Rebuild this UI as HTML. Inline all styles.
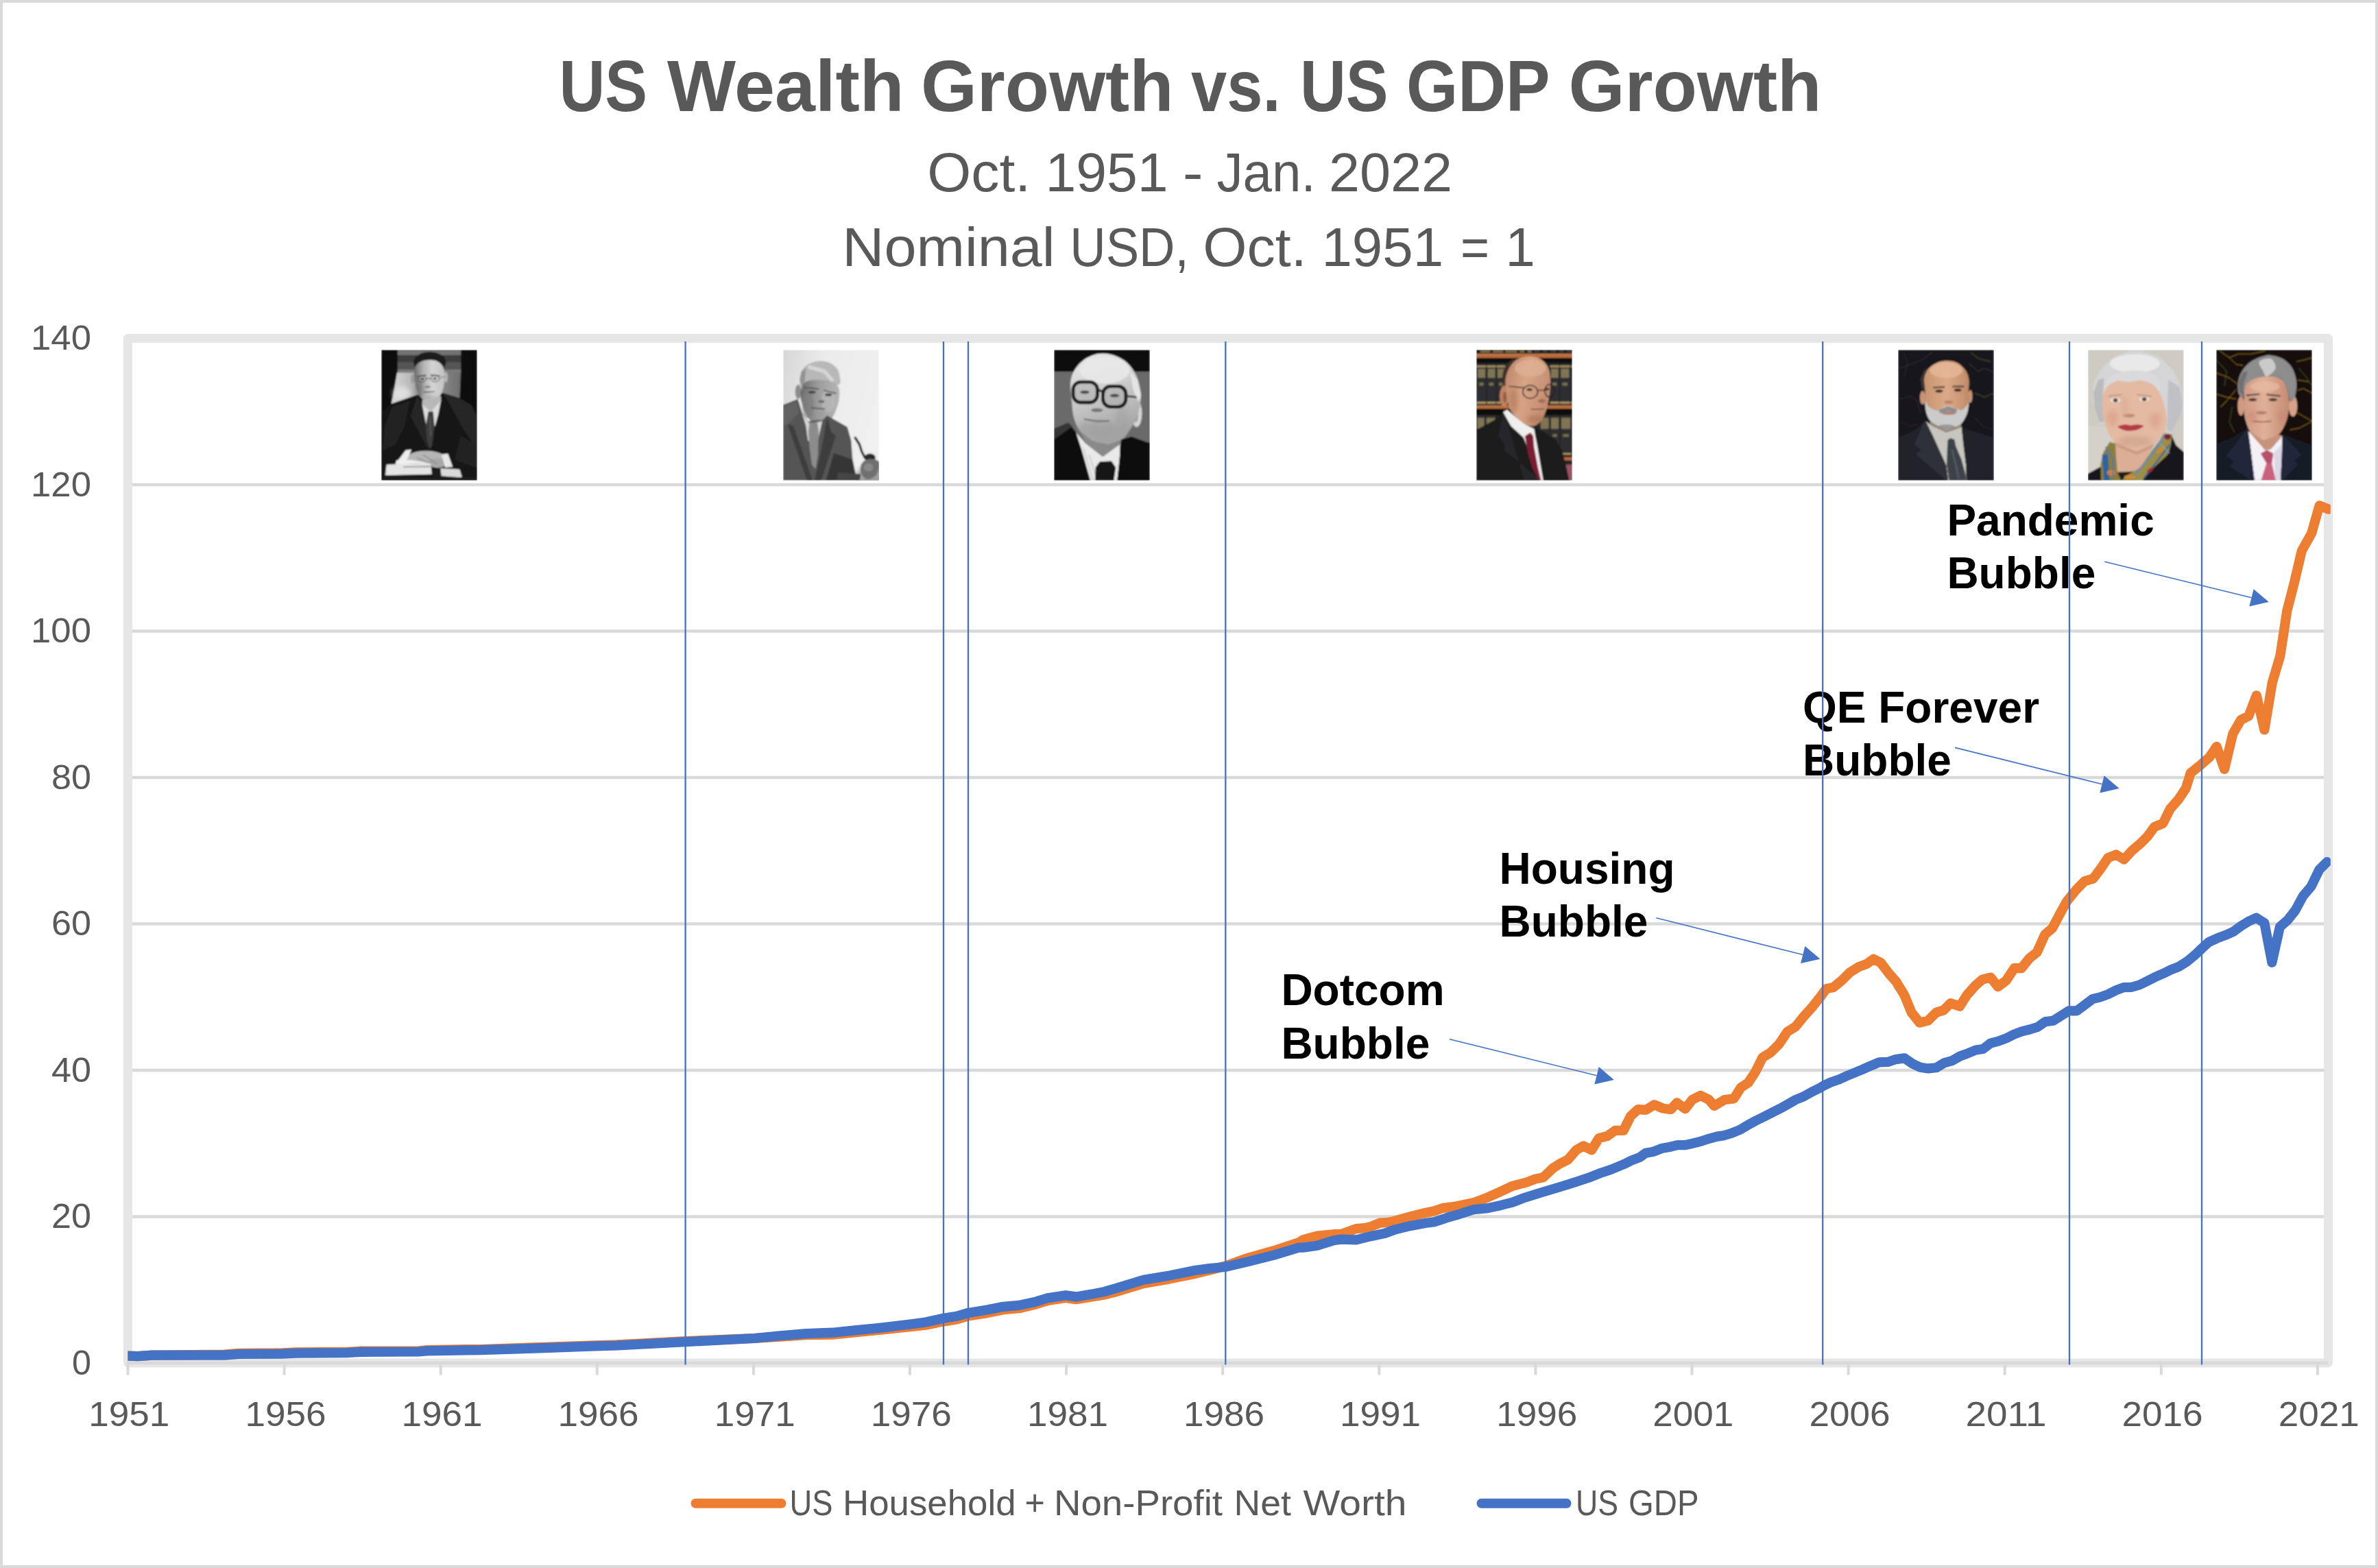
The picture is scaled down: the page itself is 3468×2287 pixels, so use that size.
<!DOCTYPE html>
<html lang="en"><head><meta charset="utf-8"><title>US Wealth Growth vs. US GDP Growth</title>
<style>html,body{margin:0;padding:0;background:#fff}svg{display:block}</style></head>
<body>
<svg width="3468" height="2287" viewBox="0 0 3468 2287">
<defs><clipPath id="pc"><rect x="0" y="0" width="139.8" height="190.6"/></clipPath><filter id="pb" x="-5%" y="-5%" width="110%" height="110%"><feGaussianBlur stdDeviation="0.8"/></filter><filter id="ps" x="-40%" y="-40%" width="180%" height="180%"><feGaussianBlur stdDeviation="3.2"/></filter><linearGradient id="fg1" x1="0" y1="0" x2="1" y2="0"><stop offset="0" stop-color="#6a6a6a"/><stop offset="0.3" stop-color="#b4b4b4"/><stop offset="0.6" stop-color="#d4d4d4"/><stop offset="1" stop-color="#c2c2c2"/></linearGradient><linearGradient id="ch1" x1="0" y1="0" x2="1" y2="0"><stop offset="0" stop-color="#d8d8d8"/><stop offset="0.35" stop-color="#b0b0b0"/><stop offset="0.7" stop-color="#8a8a8a"/><stop offset="1" stop-color="#6e6e6e"/></linearGradient><linearGradient id="fg2" x1="0" y1="0" x2="1" y2="0"><stop offset="0" stop-color="#6c6c6c"/><stop offset="0.45" stop-color="#9c9c9c"/><stop offset="1" stop-color="#b6b6b6"/></linearGradient><linearGradient id="fg3" x1="0" y1="0" x2="0.3" y2="1"><stop offset="0" stop-color="#ececec"/><stop offset="0.45" stop-color="#d0d0d0"/><stop offset="1" stop-color="#a4a4a4"/></linearGradient><linearGradient id="fg4" x1="0" y1="0" x2="1" y2="0.4"><stop offset="0" stop-color="#b98468"/><stop offset="0.5" stop-color="#d8a586"/><stop offset="1" stop-color="#c48e72"/></linearGradient><linearGradient id="fg5" x1="0" y1="0" x2="1" y2="0"><stop offset="0" stop-color="#c9946f"/><stop offset="0.5" stop-color="#dcaa88"/><stop offset="1" stop-color="#c08a68"/></linearGradient><linearGradient id="fg7" x1="0" y1="0" x2="1" y2="0"><stop offset="0" stop-color="#cf9a82"/><stop offset="0.45" stop-color="#e0b098"/><stop offset="1" stop-color="#c48c74"/></linearGradient><linearGradient id="bg2" x1="0" y1="0" x2="1" y2="0.3"><stop offset="0" stop-color="#d6d6d6"/><stop offset="0.4" stop-color="#ebebeb"/><stop offset="1" stop-color="#f0f0f0"/></linearGradient><clipPath id="sc"><rect x="186.4" y="480" width="3212.4" height="1530"/></clipPath></defs>
<rect x="0" y="0" width="3468" height="2287" fill="#fff"/>
<rect x="2" y="2" width="3464" height="2283" fill="none" stroke="#d9d9d9" stroke-width="4"/>
<g font-family="'Liberation Sans', Arial, sans-serif" fill="#595959">
<text x="815.4" y="162.0" font-size="105" font-weight="bold" textLength="128.7" lengthAdjust="spacingAndGlyphs">US</text>
<text x="973.0" y="162.0" font-size="105" font-weight="bold" textLength="345.5" lengthAdjust="spacingAndGlyphs">Wealth</text>
<text x="1342.9" y="162.0" font-size="105" font-weight="bold" textLength="368.6" lengthAdjust="spacingAndGlyphs">Growth</text>
<text x="1737.0" y="162.0" font-size="105" font-weight="bold" textLength="130.5" lengthAdjust="spacingAndGlyphs">vs.</text>
<text x="1895.9" y="162.0" font-size="105" font-weight="bold" textLength="128.7" lengthAdjust="spacingAndGlyphs">US</text>
<text x="2051.0" y="162.0" font-size="105" font-weight="bold" textLength="209.5" lengthAdjust="spacingAndGlyphs">GDP</text>
<text x="2287.4" y="162.0" font-size="105" font-weight="bold" textLength="369.1" lengthAdjust="spacingAndGlyphs">Growth</text>
<text x="1352.3" y="278.6" font-size="80" textLength="150.9" lengthAdjust="spacingAndGlyphs">Oct.</text>
<text x="1524.4" y="278.6" font-size="80" textLength="179.2" lengthAdjust="spacingAndGlyphs">1951</text>
<text x="1724.8" y="278.6" font-size="80" textLength="29.9" lengthAdjust="spacingAndGlyphs">-</text>
<text x="1774.5" y="278.6" font-size="80" textLength="144.1" lengthAdjust="spacingAndGlyphs">Jan.</text>
<text x="1937.9" y="278.6" font-size="80" textLength="180.1" lengthAdjust="spacingAndGlyphs">2022</text>
<text x="1228.3" y="388.4" font-size="80" textLength="310.3" lengthAdjust="spacingAndGlyphs">Nominal</text>
<text x="1560.3" y="388.4" font-size="80" textLength="173.4" lengthAdjust="spacingAndGlyphs">USD,</text>
<text x="1754.3" y="388.4" font-size="80" textLength="151.4" lengthAdjust="spacingAndGlyphs">Oct.</text>
<text x="1927.4" y="388.4" font-size="80" textLength="177.7" lengthAdjust="spacingAndGlyphs">1951</text>
<text x="2130.0" y="388.4" font-size="80" textLength="42.0" lengthAdjust="spacingAndGlyphs">=</text>
<text x="2195.5" y="388.4" font-size="80" textLength="43.3" lengthAdjust="spacingAndGlyphs">1</text>
<text x="1151.5" y="2209.5" font-size="52" textLength="63.0" lengthAdjust="spacingAndGlyphs">US</text>
<text x="1229.0" y="2209.5" font-size="52" textLength="252.6" lengthAdjust="spacingAndGlyphs">Household</text>
<text x="1494.6" y="2209.5" font-size="52" textLength="29.3" lengthAdjust="spacingAndGlyphs">+</text>
<text x="1537.0" y="2209.5" font-size="52" textLength="246.0" lengthAdjust="spacingAndGlyphs">Non-Profit</text>
<text x="1799.6" y="2209.5" font-size="52" textLength="83.4" lengthAdjust="spacingAndGlyphs">Net</text>
<text x="1900.5" y="2209.5" font-size="52" textLength="150.9" lengthAdjust="spacingAndGlyphs">Worth</text>
<text x="2298.0" y="2209.5" font-size="52" textLength="62.0" lengthAdjust="spacingAndGlyphs">US</text>
<text x="2375.0" y="2209.5" font-size="52" textLength="102.5" lengthAdjust="spacingAndGlyphs">GDP</text>
</g>
<rect x="186.5" y="493.5" width="3209.0" height="1494.5" fill="#fff" stroke="#e6e6e6" stroke-width="13" stroke-linejoin="round"/>
<line x1="193.0" x2="3389.0" y1="1774.5" y2="1774.5" stroke="#d9d9d9" stroke-width="4.5"/>
<line x1="193.0" x2="3389.0" y1="1561.0" y2="1561.0" stroke="#d9d9d9" stroke-width="4.5"/>
<line x1="193.0" x2="3389.0" y1="1347.5" y2="1347.5" stroke="#d9d9d9" stroke-width="4.5"/>
<line x1="193.0" x2="3389.0" y1="1134.0" y2="1134.0" stroke="#d9d9d9" stroke-width="4.5"/>
<line x1="193.0" x2="3389.0" y1="920.5" y2="920.5" stroke="#d9d9d9" stroke-width="4.5"/>
<line x1="193.0" x2="3389.0" y1="707.0" y2="707.0" stroke="#d9d9d9" stroke-width="4.5"/>
<line x1="184.5" x2="3395.5" y1="1988" y2="1988" stroke="#d9d9d9" stroke-width="4.5"/>
<line x1="186.5" x2="186.5" y1="1986" y2="2005.5" stroke="#d9d9d9" stroke-width="4"/>
<line x1="414.6" x2="414.6" y1="1986" y2="2005.5" stroke="#d9d9d9" stroke-width="4"/>
<line x1="642.7" x2="642.7" y1="1986" y2="2005.5" stroke="#d9d9d9" stroke-width="4"/>
<line x1="870.8" x2="870.8" y1="1986" y2="2005.5" stroke="#d9d9d9" stroke-width="4"/>
<line x1="1098.9" x2="1098.9" y1="1986" y2="2005.5" stroke="#d9d9d9" stroke-width="4"/>
<line x1="1327.0" x2="1327.0" y1="1986" y2="2005.5" stroke="#d9d9d9" stroke-width="4"/>
<line x1="1555.1" x2="1555.1" y1="1986" y2="2005.5" stroke="#d9d9d9" stroke-width="4"/>
<line x1="1783.2" x2="1783.2" y1="1986" y2="2005.5" stroke="#d9d9d9" stroke-width="4"/>
<line x1="2011.3" x2="2011.3" y1="1986" y2="2005.5" stroke="#d9d9d9" stroke-width="4"/>
<line x1="2239.4" x2="2239.4" y1="1986" y2="2005.5" stroke="#d9d9d9" stroke-width="4"/>
<line x1="2467.5" x2="2467.5" y1="1986" y2="2005.5" stroke="#d9d9d9" stroke-width="4"/>
<line x1="2695.6" x2="2695.6" y1="1986" y2="2005.5" stroke="#d9d9d9" stroke-width="4"/>
<line x1="2923.7" x2="2923.7" y1="1986" y2="2005.5" stroke="#d9d9d9" stroke-width="4"/>
<line x1="3151.8" x2="3151.8" y1="1986" y2="2005.5" stroke="#d9d9d9" stroke-width="4"/>
<line x1="3379.9" x2="3379.9" y1="1986" y2="2005.5" stroke="#d9d9d9" stroke-width="4"/>
<g font-family="'Liberation Sans', Arial, sans-serif" fill="#595959" font-size="50.5">
<text x="133" y="2004.8" text-anchor="end" textLength="28" lengthAdjust="spacingAndGlyphs">0</text>
<text x="133" y="1791.3" text-anchor="end" textLength="58" lengthAdjust="spacingAndGlyphs">20</text>
<text x="133" y="1577.8" text-anchor="end" textLength="58" lengthAdjust="spacingAndGlyphs">40</text>
<text x="133" y="1364.3" text-anchor="end" textLength="58" lengthAdjust="spacingAndGlyphs">60</text>
<text x="133" y="1150.8" text-anchor="end" textLength="58" lengthAdjust="spacingAndGlyphs">80</text>
<text x="133" y="937.3" text-anchor="end" textLength="88" lengthAdjust="spacingAndGlyphs">100</text>
<text x="133" y="723.8" text-anchor="end" textLength="88" lengthAdjust="spacingAndGlyphs">120</text>
<text x="133" y="510.3" text-anchor="end" textLength="88" lengthAdjust="spacingAndGlyphs">140</text>
<text x="188.3" y="2080.3" text-anchor="middle" textLength="118" lengthAdjust="spacingAndGlyphs">1951</text>
<text x="416.4" y="2080.3" text-anchor="middle" textLength="118" lengthAdjust="spacingAndGlyphs">1956</text>
<text x="644.5" y="2080.3" text-anchor="middle" textLength="118" lengthAdjust="spacingAndGlyphs">1961</text>
<text x="872.6" y="2080.3" text-anchor="middle" textLength="118" lengthAdjust="spacingAndGlyphs">1966</text>
<text x="1100.7" y="2080.3" text-anchor="middle" textLength="118" lengthAdjust="spacingAndGlyphs">1971</text>
<text x="1328.8" y="2080.3" text-anchor="middle" textLength="118" lengthAdjust="spacingAndGlyphs">1976</text>
<text x="1556.9" y="2080.3" text-anchor="middle" textLength="118" lengthAdjust="spacingAndGlyphs">1981</text>
<text x="1785.0" y="2080.3" text-anchor="middle" textLength="118" lengthAdjust="spacingAndGlyphs">1986</text>
<text x="2013.1" y="2080.3" text-anchor="middle" textLength="118" lengthAdjust="spacingAndGlyphs">1991</text>
<text x="2241.2" y="2080.3" text-anchor="middle" textLength="118" lengthAdjust="spacingAndGlyphs">1996</text>
<text x="2469.3" y="2080.3" text-anchor="middle" textLength="118" lengthAdjust="spacingAndGlyphs">2001</text>
<text x="2697.4" y="2080.3" text-anchor="middle" textLength="118" lengthAdjust="spacingAndGlyphs">2006</text>
<text x="2925.5" y="2080.3" text-anchor="middle" textLength="118" lengthAdjust="spacingAndGlyphs">2011</text>
<text x="3153.6" y="2080.3" text-anchor="middle" textLength="118" lengthAdjust="spacingAndGlyphs">2016</text>
<text x="3381.7" y="2080.3" text-anchor="middle" textLength="118" lengthAdjust="spacingAndGlyphs">2021</text>
</g>
<g transform="translate(556.1 510.2)" clip-path="url(#pc)"><g filter="url(#pb)"><rect x="0.0" y="0.0" width="139.8" height="190.6" fill="#101010"/><rect x="23.7" y="0.0" width="92.2" height="8.0" fill="#727272"/><rect x="23.7" y="8.0" width="92.2" height="9.4" fill="#3c3c3c"/><rect x="23.7" y="17.4" width="92.2" height="10.9" fill="#545454"/><rect x="23.7" y="28.4" width="92.2" height="5.3" fill="#7c7c7c"/><polygon points="23.0,33.3 115.9,33.3 114.2,70.5 90.4,63.4 53.9,65.5 14.6,78.9 18.8,57.8" fill="url(#ch1)"/><ellipse cx="30.0" cy="63.4" rx="12.6" ry="9.8" fill="#e6e6e6" opacity="0.8" filter="url(#ps)"/><ellipse cx="70.7" cy="18.2" rx="23.6" ry="15.2" fill="#1a1a1a"/><ellipse cx="45.8" cy="42.4" rx="2.5" ry="7.0" fill="#9a9a9a"/><ellipse cx="94.3" cy="39.9" rx="2.8" ry="7.7" fill="#b4b4b4"/><path d="M48.0,31.2C48.5,26.3 49.9,23.3 52.5,20.6C55.1,18.0 59.5,16.3 63.7,15.4C67.9,14.6 73.7,14.4 77.8,15.4C81.8,16.5 85.5,18.8 87.9,21.6C90.2,24.5 91.4,28.2 92.1,32.6C92.7,37.0 92.5,42.9 91.8,48.0C91.1,53.1 89.9,59.2 87.9,63.4C85.8,67.7 82.3,71.3 79.4,73.5C76.6,75.8 73.6,76.7 70.7,76.8C67.9,76.8 65.1,76.1 62.3,74.0C59.6,71.9 56.3,68.2 54.2,64.1C52.0,60.1 50.4,55.2 49.4,49.7C48.4,44.2 47.5,36.0 48.0,31.2Z" fill="url(#fg1)"/><ellipse cx="56.0" cy="57.8" rx="6.3" ry="12.6" fill="#5e5e5e" opacity="0.5" filter="url(#ps)"/><ellipse cx="59.5" cy="42.7" rx="6.3" ry="4.5" fill="none" stroke="#3c3c3c" stroke-width="1.0"/><ellipse cx="78.5" cy="42.1" rx="6.3" ry="4.5" fill="none" stroke="#3c3c3c" stroke-width="1.0"/><polyline points="65.8,42.1 72.1,41.8" fill="none" stroke="#3c3c3c" stroke-width="0.8" stroke-linecap="round" stroke-linejoin="round"/><polyline points="84.8,41.0 93.2,38.9" fill="none" stroke="#4a4a4a" stroke-width="0.7" stroke-linecap="round" stroke-linejoin="round"/><ellipse cx="60.2" cy="42.7" rx="2.8" ry="1.3" fill="#353535"/><ellipse cx="78.0" cy="42.1" rx="2.8" ry="1.3" fill="#353535"/><polyline points="52.5,38.5 65.1,37.1" fill="none" stroke="#4a4a4a" stroke-width="1.5" stroke-linecap="round" stroke-linejoin="round"/><polyline points="72.1,36.8 84.8,37.9" fill="none" stroke="#4a4a4a" stroke-width="1.5" stroke-linecap="round" stroke-linejoin="round"/><ellipse cx="67.6" cy="53.9" rx="4.2" ry="1.7" fill="#7e7e7e"/><polyline points="62.6,61.8 77.1,61.1" fill="none" stroke="#4c4c4c" stroke-width="1.3" stroke-linecap="round" stroke-linejoin="round"/><ellipse cx="70.7" cy="70.5" rx="8.4" ry="3.5" fill="#8a8a8a" opacity="0.6" filter="url(#ps)"/><polygon points="0.0,91.5 14.6,78.9 52.5,65.5 60.9,77.5 72.1,91.5 86.2,74.7 90.4,63.4 114.2,70.5 131.1,80.3 139.8,97.1 139.8,190.6 0.0,190.6" fill="#171717"/><polygon points="90.4,63.4 114.2,70.5 131.1,80.3 139.8,97.1 139.8,146.2 121.3,118.2 103.0,85.9" fill="#262626"/><polygon points="52.5,66.2 42.7,97.1 68.6,146.2 65.1,105.5 58.1,77.5" fill="#262626"/><polygon points="16.0,83.1 41.3,74.7 34.2,111.2 20.2,139.2 2.0,146.2 4.8,111.2" fill="#212121"/><polygon points="115.6,125.2 139.8,139.2 139.8,172.9 107.2,160.3" fill="#232323"/><polygon points="59.8,73.3 87.0,67.6 87.3,74.7 72.1,90.9 59.5,79.7" fill="#b8b8b8"/><polygon points="59.5,79.2 72.1,90.1 87.0,74.1 83.1,94.3 78.5,111.2 65.8,111.2 62.3,94.3" fill="#dcdcdc"/><polygon points="68.6,90.1 75.6,90.1 77.5,111.2 74.2,139.2 70.7,145.5 66.5,132.2 64.8,111.2" fill="#3c3c3c"/><polyline points="70.7,97.1 72.1,125.2" fill="none" stroke="#6a6a6a" stroke-width="2.0" stroke-linecap="round" stroke-linejoin="round" opacity="0.5"/><ellipse cx="65.1" cy="157.2" rx="27.4" ry="9.8" fill="#b6b6b6"/><ellipse cx="82.0" cy="165.2" rx="14.0" ry="7.0" fill="#a8a8a8"/><polyline points="52.5,157.5 72.1,165.9" fill="none" stroke="#7a7a7a" stroke-width="1.1" stroke-linecap="round" stroke-linejoin="round"/><polyline points="60.9,153.3 80.6,165.9" fill="none" stroke="#7a7a7a" stroke-width="1.1" stroke-linecap="round" stroke-linejoin="round"/><polygon points="35.6,146.2 44.1,145.5 37.1,162.0 22.3,164.1" fill="#ededed"/><polygon points="87.6,152.6 97.1,151.2 104.1,170.8 93.2,171.8" fill="#e6e6e6"/><polygon points="22.3,161.0 41.3,160.3 72.1,165.9 20.2,167.3" fill="#efefef"/><polygon points="7.6,167.3 72.1,165.9 73.8,181.6 5.9,183.0" fill="#e4e4e4"/><polyline points="32.8,170.8 72.1,170.1" fill="none" stroke="#8c8c8c" stroke-width="1.7" stroke-linecap="round" stroke-linejoin="round"/><polygon points="86.2,172.9 114.2,174.3 117.8,186.2 87.6,184.1" fill="#dadada"/><rect x="75.2" y="174.3" width="10.9" height="13.3" fill="#1b1b1b"/><rect x="0.0" y="185.8" width="139.8" height="4.8" fill="#1c1c1c"/></g></g>
<g transform="translate(1142.1 510.2)" clip-path="url(#pc)"><g filter="url(#pb)"><rect x="0" y="0" width="140" height="191" fill="url(#bg2)"/><ellipse cx="130.1" cy="184.1" rx="22.5" ry="16.8" fill="#8c8c8c" opacity="0.8" filter="url(#ps)"/><ellipse cx="22.0" cy="61.3" rx="4.5" ry="10.5" fill="#8d8d8d"/><path d="M24.1,43.8C24.3,39.3 25.0,34.9 26.9,31.2C28.9,27.4 32.0,23.8 36.1,21.3C40.2,18.9 46.4,16.9 51.5,16.4C56.7,16.0 62.5,16.8 66.9,18.5C71.4,20.3 75.6,23.7 78.2,26.9C80.7,30.2 81.9,34.2 82.4,38.2C82.9,42.2 85.2,49.6 81.0,50.8C76.8,52.0 64.6,45.9 57.1,45.2C49.6,44.5 41.2,44.5 36.1,46.6C30.9,48.7 28.2,58.3 26.2,57.8C24.3,57.4 24.0,48.2 24.1,43.8Z" fill="#b8b8b8"/><polygon points="24.1,43.8 26.9,31.2 33.3,26.9 31.9,43.8 29.1,57.8" fill="#8a8a8a" opacity="0.8"/><polyline points="38.9,25.5 59.9,31.2 71.2,43.8" fill="none" stroke="#dcdcdc" stroke-width="5.6" stroke-linecap="round" stroke-linejoin="round" opacity="0.8"/><path d="M26.2,57.8C27.5,54.1 29.1,48.9 33.3,46.6C37.5,44.3 45.2,43.8 51.5,43.8C57.8,43.8 66.2,44.7 71.2,46.6C76.1,48.5 79.2,50.8 81.0,55.0C82.7,59.2 82.4,66.2 81.7,71.9C81.0,77.5 78.8,83.8 76.8,88.7C74.8,93.6 72.8,97.9 69.8,101.3C66.7,104.7 62.5,108.0 58.5,109.1C54.5,110.1 49.6,109.4 45.9,107.6C42.2,105.9 38.9,102.6 36.1,98.5C33.3,94.4 30.8,88.0 29.1,83.1C27.3,78.2 26.0,73.3 25.5,69.1C25.1,64.8 25.0,61.6 26.2,57.8Z" fill="url(#fg2)"/><ellipse cx="36.1" cy="80.3" rx="8.4" ry="19.6" fill="#7e7e7e" opacity="0.6"/><ellipse cx="65.5" cy="74.7" rx="9.8" ry="16.8" fill="#bcbcbc" opacity="0.6"/><polyline points="30.5,55.0 51.5,57.1" fill="none" stroke="#5a5a5a" stroke-width="2.0" stroke-linecap="round" stroke-linejoin="round"/><polyline points="59.9,59.2 76.8,63.4" fill="none" stroke="#5a5a5a" stroke-width="2.0" stroke-linecap="round" stroke-linejoin="round"/><ellipse cx="42.0" cy="61.8" rx="5.6" ry="2.0" fill="#454545"/><ellipse cx="66.2" cy="65.5" rx="5.1" ry="2.0" fill="#454545"/><ellipse cx="55.7" cy="75.4" rx="4.5" ry="2.2" fill="#6c6c6c"/><polyline points="41.7,84.8 60.6,86.2" fill="none" stroke="#444" stroke-width="1.5" stroke-linecap="round" stroke-linejoin="round"/><ellipse cx="51.5" cy="106.2" rx="16.8" ry="3.9" fill="#555" opacity="0.8"/><polygon points="0.0,80.3 21.3,71.9 27.6,91.5 38.9,108.4 51.5,108.4 64.1,95.7 93.6,112.6 99.2,132.2 101.3,160.3 107.6,190.6 0.0,190.6" fill="#545454"/><polygon points="0.0,83.1 19.2,74.7 23.4,91.5 6.6,108.4 0.0,111.2" fill="#626262"/><polygon points="6.6,108.4 15.0,111.2 43.1,190.6 34.7,190.6" fill="#3e3e3e"/><polygon points="64.1,97.1 57.1,139.2 45.9,190.6 55.7,190.6 76.8,125.2 69.8,119.6" fill="#3e3e3e"/><polygon points="74.0,150.5 101.3,160.3 107.6,190.6 62.7,190.6" fill="#353535"/><polygon points="27.6,92.9 38.9,108.4 57.1,104.1 52.2,125.2 49.4,139.2 36.1,132.2 33.3,111.2" fill="#d6d6d6"/><polygon points="38.2,106.9 50.1,106.2 51.8,119.6 50.9,153.3 47.3,174.3 41.7,167.3 38.2,139.2 36.8,119.6" fill="#8c8c8c"/><polygon points="79.6,178.5 113.3,181.3 111.9,190.6 78.2,190.6" fill="#444"/><polyline points="105.1,128.3 111.2,137.8 114.9,149.1 119.2,157.2" fill="none" stroke="#1d1d1d" stroke-width="3.4" stroke-linecap="round" stroke-linejoin="round"/><ellipse cx="126.6" cy="157.2" rx="8.1" ry="5.9" fill="#2a2a2a"/><path d="M114.7,165.9C116.5,162.7 120.5,160.2 124.5,159.6C128.5,158.9 136.0,160.0 138.5,162.0C141.1,164.0 140.5,167.8 139.8,171.5C139.1,175.2 137.3,181.3 134.3,184.1C131.3,187.0 125.2,189.6 121.7,188.6C118.2,187.7 114.4,182.3 113.3,178.5C112.1,174.7 112.8,169.1 114.7,165.9Z" fill="#707070"/><ellipse cx="124.5" cy="171.5" rx="7.0" ry="5.6" fill="#8e8e8e" opacity="0.8"/></g></g>
<g transform="translate(1537.1 510.2)" clip-path="url(#pc)"><g filter="url(#pb)"><rect x="0.0" y="0.0" width="139.8" height="190.6" fill="#0a0a0a"/><rect x="0.0" y="31.9" width="139.8" height="102.9" fill="#6b6b6b"/><ellipse cx="120.6" cy="92.9" rx="7.7" ry="19.6" fill="#d4d4d4"/><ellipse cx="119.6" cy="94.3" rx="3.1" ry="11.2" fill="#9a9a9a"/><path d="M24.1,49.4C24.7,41.9 25.9,36.9 29.1,31.2C32.2,25.4 37.2,19.2 43.1,15.0C48.9,10.8 57.1,7.2 64.1,5.9C71.2,4.6 78.2,5.2 85.2,7.3C92.2,9.4 100.4,13.4 106.2,18.5C112.1,23.7 116.9,30.7 120.3,38.2C123.7,45.7 125.8,56.0 126.6,63.4C127.4,70.9 126.5,76.5 125.2,83.1C123.9,89.6 121.3,97.1 118.9,102.7C116.4,108.4 113.7,112.1 110.5,116.8C107.2,121.5 104.4,127.3 99.2,130.8C94.1,134.3 86.6,137.4 79.6,137.8C72.6,138.3 63.9,136.7 57.1,133.6C50.3,130.6 43.6,125.2 38.9,119.6C34.2,114.0 31.2,107.2 29.1,99.9C26.9,92.7 26.8,84.5 26.0,76.1C25.1,67.6 23.6,56.9 24.1,49.4Z" fill="url(#fg3)"/><ellipse cx="74.0" cy="29.8" rx="36.5" ry="19.6" fill="#e8e8e8" opacity="0.9"/><polygon points="110.5,31.2 121.7,43.8 127.0,66.2 123.8,76.1 116.1,60.6" fill="#e4e4e4"/><ellipse cx="62.7" cy="115.4" rx="28.1" ry="12.6" fill="#9a9a9a" opacity="0.5" filter="url(#ps)"/><ellipse cx="99.2" cy="104.1" rx="9.8" ry="21.1" fill="#a0a0a0" opacity="0.5" filter="url(#ps)"/><rect x="28.4" y="47.3" width="34.4" height="28.8" fill="#a8a8a8" opacity="0.5" rx="10.5"/><rect x="71.9" y="53.6" width="32.3" height="28.8" fill="#a8a8a8" opacity="0.5" rx="10.5"/><ellipse cx="44.8" cy="61.8" rx="6.7" ry="2.5" fill="#4c4c4c"/><ellipse cx="88.3" cy="66.9" rx="6.7" ry="2.5" fill="#4c4c4c"/><rect x="27.9" y="46.9" width="35.5" height="29.9" fill="none" rx="11.2" stroke="#161616" stroke-width="4.8"/><rect x="71.4" y="53.2" width="33.4" height="29.9" fill="none" rx="11.2" stroke="#161616" stroke-width="4.8"/><polyline points="62.7,57.8 71.9,61.3" fill="none" stroke="#1b1b1b" stroke-width="3.4" stroke-linecap="round" stroke-linejoin="round"/><polyline points="104.1,67.4 119.6,69.1" fill="none" stroke="#222" stroke-width="2.5" stroke-linecap="round" stroke-linejoin="round"/><ellipse cx="62.7" cy="88.0" rx="8.7" ry="2.8" fill="#747474"/><polyline points="44.5,101.1 62.7,104.1 80.3,103.9" fill="none" stroke="#5e5e5e" stroke-width="1.7" stroke-linecap="round" stroke-linejoin="round"/><polygon points="38.9,119.6 57.1,133.6 79.6,137.8 99.2,130.8 96.4,139.2 71.2,156.1 45.9,136.4" fill="#8a8a8a"/><polygon points="31.2,119.6 45.9,136.4 71.2,156.1 96.4,137.8 95.7,160.3 92.2,190.6 52.9,190.6 40.3,146.2" fill="#e9e9e9"/><polyline points="51.5,153.3 62.7,190.6" fill="none" stroke="#bbb" stroke-width="1.1" stroke-linecap="round" stroke-linejoin="round"/><polyline points="43.1,143.4 57.1,190.6" fill="none" stroke="#bbb" stroke-width="1.1" stroke-linecap="round" stroke-linejoin="round"/><polygon points="0.0,115.4 20.6,106.2 31.9,119.6 40.3,146.2 52.9,190.6 0.0,190.6" fill="#0c0c0c"/><polygon points="0.0,115.4 20.6,106.2 26.9,111.9 0.0,130.8" fill="#353535"/><polygon points="97.8,130.8 113.3,126.6 139.8,136.4 139.8,190.6 92.2,190.6 96.1,153.3" fill="#0c0c0c"/><polygon points="66.9,163.1 83.8,162.4 90.1,171.5 87.3,190.6 59.9,190.6 60.6,171.5" fill="#131313"/></g></g>
<g transform="translate(2153.1 510.2)" clip-path="url(#pc)"><g filter="url(#pb)"><rect x="0.0" y="0.0" width="139.8" height="190.6" fill="#242426"/><rect x="0.0" y="0.0" width="139.8" height="5.9" fill="#1a1a1a"/><rect x="5.6" y="1.4" width="14.7" height="2.5" fill="#8c7a50"/><rect x="23.9" y="1.4" width="15.4" height="2.5" fill="#8c7a50"/><rect x="42.1" y="1.4" width="17.5" height="2.5" fill="#8c7a50"/><rect x="63.2" y="1.4" width="7.0" height="2.5" fill="#8c7a50"/><rect x="74.4" y="1.4" width="6.3" height="2.5" fill="#8c7a50"/><rect x="84.2" y="1.4" width="8.4" height="2.5" fill="#4a4438"/><rect x="96.8" y="1.4" width="7.0" height="2.5" fill="#4a4438"/><rect x="108.1" y="1.4" width="8.4" height="2.5" fill="#4a4438"/><rect x="120.7" y="1.4" width="7.0" height="2.5" fill="#4a4438"/><rect x="131.9" y="1.4" width="7.9" height="2.5" fill="#4a4438"/><rect x="0.0" y="5.9" width="139.8" height="5.9" fill="#b8693b"/><rect x="0.0" y="5.9" width="139.8" height="1.4" fill="#cf8352"/><rect x="0.0" y="11.8" width="139.8" height="7.4" fill="#0d0d0d"/><rect x="0.7" y="19.9" width="13.3" height="61.1" fill="#2d2e31"/><rect x="0.7" y="23.0" width="13.3" height="2.5" fill="#b09a62"/><rect x="0.7" y="75.8" width="13.3" height="2.8" fill="#b09a62"/><rect x="2.1" y="27.6" width="10.8" height="13.3" fill="#b7a46a" opacity="0.6"/><rect x="4.2" y="48.0" width="6.3" height="4.2" fill="#8f8152" opacity="0.8"/><rect x="15.2" y="19.9" width="13.2" height="61.1" fill="#2d2e31"/><rect x="15.2" y="23.0" width="13.2" height="2.5" fill="#b09a62"/><rect x="15.2" y="75.8" width="13.2" height="2.8" fill="#b09a62"/><rect x="16.6" y="27.6" width="10.7" height="13.3" fill="#b7a46a" opacity="0.6"/><rect x="18.7" y="48.0" width="6.2" height="4.2" fill="#8f8152" opacity="0.8"/><rect x="29.5" y="19.9" width="12.6" height="61.1" fill="#2d2e31"/><rect x="29.5" y="23.0" width="12.6" height="2.5" fill="#b09a62"/><rect x="29.5" y="75.8" width="12.6" height="2.8" fill="#b09a62"/><rect x="30.9" y="27.6" width="10.1" height="13.3" fill="#b7a46a" opacity="0.6"/><rect x="33.0" y="48.0" width="5.6" height="4.2" fill="#8f8152" opacity="0.8"/><rect x="107.4" y="19.9" width="13.3" height="61.1" fill="#2d2e31"/><rect x="107.4" y="23.0" width="13.3" height="2.5" fill="#b09a62"/><rect x="107.4" y="75.8" width="13.3" height="2.8" fill="#b09a62"/><rect x="108.8" y="27.6" width="10.8" height="13.3" fill="#b7a46a" opacity="0.6"/><rect x="110.9" y="48.0" width="6.3" height="4.2" fill="#8f8152" opacity="0.8"/><rect x="121.8" y="19.9" width="14.6" height="61.1" fill="#2d2e31"/><rect x="121.8" y="23.0" width="14.6" height="2.5" fill="#b09a62"/><rect x="121.8" y="75.8" width="14.6" height="2.8" fill="#b09a62"/><rect x="123.2" y="27.6" width="12.1" height="13.3" fill="#b7a46a" opacity="0.6"/><rect x="125.3" y="48.0" width="7.6" height="4.2" fill="#8f8152" opacity="0.8"/><rect x="137.5" y="19.9" width="2.2" height="61.1" fill="#2d2e31"/><rect x="137.5" y="23.0" width="2.2" height="2.5" fill="#b09a62"/><rect x="137.5" y="75.8" width="2.2" height="2.8" fill="#b09a62"/><rect x="138.9" y="27.6" width="-0.3" height="13.3" fill="#b7a46a" opacity="0.6"/><rect x="141.1" y="48.0" width="-4.8" height="4.2" fill="#8f8152" opacity="0.8"/><rect x="0.0" y="81.4" width="139.8" height="4.8" fill="#b8693b"/><rect x="0.0" y="81.4" width="139.8" height="1.3" fill="#cf8352"/><rect x="0.0" y="86.2" width="139.8" height="8.8" fill="#0d0d0d"/><rect x="0.7" y="95.7" width="11.9" height="60.4" fill="#2d2e31"/><rect x="1.8" y="99.2" width="9.7" height="16.1" fill="#b7a46a" opacity="0.6"/><rect x="4.2" y="123.1" width="4.9" height="3.8" fill="#8f8152" opacity="0.8"/><rect x="0.7" y="150.5" width="11.9" height="2.5" fill="#b09a62"/><rect x="13.8" y="95.7" width="14.3" height="60.4" fill="#2d2e31"/><rect x="14.9" y="99.2" width="12.1" height="16.1" fill="#b7a46a" opacity="0.6"/><rect x="17.3" y="123.1" width="7.3" height="3.8" fill="#8f8152" opacity="0.8"/><rect x="13.8" y="150.5" width="14.3" height="2.5" fill="#b09a62"/><rect x="92.6" y="95.7" width="14.0" height="60.4" fill="#2d2e31"/><rect x="93.8" y="99.2" width="11.8" height="16.1" fill="#b7a46a" opacity="0.6"/><rect x="96.1" y="123.1" width="7.0" height="3.8" fill="#8f8152" opacity="0.8"/><rect x="92.6" y="150.5" width="14.0" height="2.5" fill="#b09a62"/><rect x="107.8" y="95.7" width="13.5" height="60.4" fill="#2d2e31"/><rect x="108.9" y="99.2" width="11.2" height="16.1" fill="#b7a46a" opacity="0.6"/><rect x="111.3" y="123.1" width="6.5" height="3.8" fill="#8f8152" opacity="0.8"/><rect x="107.8" y="150.5" width="13.5" height="2.5" fill="#b09a62"/><rect x="122.8" y="95.7" width="15.4" height="60.4" fill="#2d2e31"/><rect x="123.9" y="99.2" width="13.2" height="16.1" fill="#b7a46a" opacity="0.6"/><rect x="126.3" y="123.1" width="8.4" height="3.8" fill="#8f8152" opacity="0.8"/><rect x="122.8" y="150.5" width="15.4" height="2.5" fill="#b09a62"/><rect x="126.3" y="156.8" width="13.5" height="4.6" fill="#b8693b"/><rect x="130.5" y="167.3" width="9.3" height="23.3" fill="#9a5264"/><ellipse cx="61.8" cy="41.0" rx="23.9" ry="28.8" fill="#3d302b"/><ellipse cx="40.7" cy="67.6" rx="6.7" ry="15.2" fill="#c08260"/><ellipse cx="41.4" cy="69.1" rx="2.8" ry="8.4" fill="#9a6044"/><path d="M47.7,26.9C50.5,22.0 54.3,17.2 58.9,14.3C63.6,11.4 70.2,9.6 75.8,9.4C81.4,9.2 88.0,10.5 92.6,12.9C97.3,15.4 101.3,19.5 103.9,24.1C106.4,28.8 107.3,34.4 107.8,41.0C108.3,47.5 107.7,56.4 106.9,63.4C106.2,70.5 104.6,77.5 103.2,83.1C101.7,88.7 100.0,93.4 98.2,97.1C96.5,100.9 95.2,103.2 92.6,105.5C90.1,107.9 86.5,110.7 82.8,111.2C79.1,111.6 74.6,110.7 70.2,108.4C65.7,106.0 59.9,101.3 56.1,97.1C52.4,92.9 49.8,88.7 47.7,83.1C45.7,77.5 44.7,70.0 43.8,63.4C42.9,56.9 41.7,49.9 42.4,43.8C43.0,37.7 45.0,31.9 47.7,26.9Z" fill="url(#fg4)"/><ellipse cx="78.6" cy="26.9" rx="22.5" ry="12.6" fill="#e0b092" opacity="0.8"/><ellipse cx="54.7" cy="74.7" rx="6.3" ry="18.2" fill="#a87050" opacity="0.5" filter="url(#ps)"/><ellipse cx="87.0" cy="101.3" rx="12.6" ry="6.3" fill="#a06848" opacity="0.5" filter="url(#ps)"/><ellipse cx="77.5" cy="58.1" rx="4.2" ry="2.0" fill="#4c3c3a"/><ellipse cx="102.7" cy="57.4" rx="3.4" ry="2.0" fill="#4c3c3a"/><ellipse cx="78.6" cy="61.3" rx="10.9" ry="9.5" fill="none" stroke="#2a2020" stroke-width="1.5"/><ellipse cx="106.9" cy="59.9" rx="7.0" ry="9.5" fill="none" stroke="#2a2020" stroke-width="1.5"/><polyline points="47.7,53.2 68.8,55.3" fill="none" stroke="#2a2020" stroke-width="1.3" stroke-linecap="round" stroke-linejoin="round"/><polyline points="89.5,59.2 99.9,58.9" fill="none" stroke="#2a2020" stroke-width="1.3" stroke-linecap="round" stroke-linejoin="round"/><ellipse cx="95.4" cy="74.7" rx="5.6" ry="3.1" fill="#a96f52"/><polyline points="80.0,86.9 98.2,86.2" fill="none" stroke="#8a4838" stroke-width="1.5" stroke-linecap="round" stroke-linejoin="round"/><polygon points="0.0,116.8 28.1,101.3 39.3,91.5 50.5,111.2 70.2,126.6 84.2,114.0 98.2,119.6 115.1,130.8 124.9,146.2 131.9,174.3 135.4,190.6 0.0,190.6" fill="#1b1b1f"/><polygon points="39.3,91.5 32.3,125.2 42.1,139.2 40.7,146.2 94.0,190.6 70.2,190.6 50.5,125.2" fill="#27272c"/><polygon points="39.0,90.8 44.9,87.3 57.5,98.5 70.2,108.4 84.2,115.4 85.9,125.2 88.7,139.2 97.5,190.6 93.3,190.6 78.6,153.3 68.8,128.0 50.5,111.2" fill="#efefef"/><polygon points="70.9,125.9 78.6,120.7 82.8,125.2 84.2,142.0 89.8,171.5 94.3,190.6 91.2,190.6 81.4,171.5 75.1,150.5" fill="#7c1a32"/></g></g>
<g transform="translate(2768.1 510.2)" clip-path="url(#pc)"><g filter="url(#pb)"><rect x="0.0" y="0.0" width="139.8" height="190.6" fill="#18141f"/><polyline points="1.4,26.9 18.2,21.3 37.9,12.9 50.5,3.1" fill="none" stroke="#3a3340" stroke-width="1.1" stroke-linecap="round" stroke-linejoin="round" opacity="0.9"/><polyline points="2.8,71.9 18.2,67.6 28.1,74.7 32.3,91.5" fill="none" stroke="#352c38" stroke-width="1.1" stroke-linecap="round" stroke-linejoin="round" opacity="0.9"/><polyline points="103.9,19.9 116.5,31.2 126.3,26.9 138.9,32.6" fill="none" stroke="#3c3836" stroke-width="1.1" stroke-linecap="round" stroke-linejoin="round" opacity="0.9"/><polyline points="106.7,4.5 117.9,12.9 134.7,17.1" fill="none" stroke="#4c4a2a" stroke-width="1.4" stroke-linecap="round" stroke-linejoin="round" opacity="0.9"/><polyline points="112.3,63.4 126.3,69.1 138.9,63.4" fill="none" stroke="#4a4a28" stroke-width="1.4" stroke-linecap="round" stroke-linejoin="round" opacity="0.9"/><polyline points="4.2,105.5 16.8,111.2 28.1,108.4" fill="none" stroke="#3a2a30" stroke-width="1.1" stroke-linecap="round" stroke-linejoin="round" opacity="0.9"/><polyline points="109.5,97.1 123.5,111.2 138.9,116.8" fill="none" stroke="#2e2a34" stroke-width="1.1" stroke-linecap="round" stroke-linejoin="round" opacity="0.9"/><polyline points="8.4,4.5 14.0,19.9 8.4,41.0" fill="none" stroke="#332c3a" stroke-width="1.0" stroke-linecap="round" stroke-linejoin="round" opacity="0.9"/><polygon points="32.3,42.4 37.9,29.8 44.9,26.9 42.1,41.0 40.0,59.2 34.4,56.4" fill="#3a3333"/><polygon points="95.4,26.9 103.2,35.4 105.0,50.8 102.2,59.2 99.9,41.0" fill="#3a3333"/><ellipse cx="35.8" cy="69.8" rx="3.9" ry="10.1" fill="#c89474"/><ellipse cx="105.3" cy="67.9" rx="3.1" ry="9.3" fill="#c89474"/><path d="M39.3,57.8C39.1,51.7 37.2,46.1 38.2,41.0C39.1,35.8 41.5,30.8 44.9,26.9C48.4,23.1 54.3,19.6 58.9,17.8C63.6,16.0 68.3,15.8 73.0,16.0C77.7,16.2 82.8,16.9 87.0,19.2C91.2,21.5 95.6,25.7 98.2,29.8C100.9,33.8 102.4,38.6 103.2,43.8C103.9,48.9 102.6,56.0 102.7,60.6C102.9,65.3 104.3,67.6 104.1,71.9C104.0,76.1 102.7,81.7 101.8,85.9C100.8,90.1 100.0,93.4 98.2,97.1C96.5,100.9 94.0,105.3 91.2,108.4C88.4,111.4 84.9,113.8 81.4,115.4C77.9,116.9 73.9,117.7 70.2,117.5C66.4,117.2 62.7,116.2 58.9,114.0C55.2,111.7 50.5,107.9 47.7,104.1C44.9,100.4 43.5,96.0 42.1,91.5C40.7,87.1 39.8,83.1 39.3,77.5C38.8,71.9 39.5,63.9 39.3,57.8Z" fill="url(#fg5)"/><ellipse cx="70.2" cy="29.8" rx="23.9" ry="11.2" fill="#e6b898" opacity="0.8"/><path d="M39.3,74.7C39.9,73.0 42.1,80.7 44.9,83.1C47.7,85.4 53.3,88.2 56.1,88.7C58.9,89.2 58.9,87.1 61.8,85.9C64.6,84.7 69.2,81.8 73.0,81.7C76.7,81.6 80.9,84.1 84.2,85.2C87.5,86.2 89.8,88.8 92.6,88.0C95.4,87.2 99.3,82.5 101.1,80.3C102.8,78.1 103.2,73.3 103.3,74.7C103.4,76.1 102.7,84.5 101.8,88.7C100.8,92.9 99.3,96.5 97.5,99.9C95.8,103.3 93.9,106.4 91.2,109.1C88.5,111.7 84.9,114.5 81.4,116.1C77.9,117.6 73.9,118.4 70.2,118.2C66.4,117.9 62.7,116.9 58.9,114.7C55.2,112.4 50.6,108.5 47.7,104.8C44.8,101.2 42.8,97.9 41.4,92.9C40.0,87.9 38.7,76.3 39.3,74.7Z" fill="#cbcbcb"/><polygon points="58.9,87.6 73.0,82.4 85.9,86.6 84.9,92.2 73.0,89.8 61.8,92.9" fill="#8e8e8e"/><ellipse cx="73.8" cy="92.6" rx="10.1" ry="2.2" fill="#b27c6c"/><ellipse cx="70.2" cy="113.3" rx="14.0" ry="4.2" fill="#8c8c8c" opacity="0.8"/><polyline points="51.9,55.0 67.4,54.3" fill="none" stroke="#3a2c28" stroke-width="2.0" stroke-linecap="round" stroke-linejoin="round"/><polyline points="80.0,53.6 95.4,53.6" fill="none" stroke="#3a2c28" stroke-width="2.0" stroke-linecap="round" stroke-linejoin="round"/><ellipse cx="59.8" cy="60.2" rx="5.6" ry="2.2" fill="#3a2a25"/><ellipse cx="87.0" cy="58.8" rx="5.3" ry="2.2" fill="#3a2a25"/><ellipse cx="73.8" cy="76.4" rx="6.5" ry="2.5" fill="#b88666"/><polygon points="40.4,104.1 50.5,111.2 70.2,119.6 92.6,111.9 95.4,139.2 98.9,167.3 99.9,190.6 73.0,190.6 70.2,168.7 50.5,125.2" fill="#c6c6be"/><polygon points="47.7,104.8 70.2,118.2 91.2,109.1 92.9,112.8 70.2,120.7 44.9,108.6" fill="#96877a"/><polygon points="0.0,128.0 25.3,116.8 39.3,103.4 50.5,125.2 70.2,168.7 73.0,190.6 0.0,190.6" fill="#20232a"/><polygon points="92.6,113.3 112.3,119.6 139.8,128.0 139.8,190.6 99.6,190.6 98.9,167.3 95.4,139.2" fill="#20232a"/><polygon points="39.3,103.4 23.9,137.8 33.7,146.2 25.3,151.9 70.2,190.6 73.0,190.6 70.2,168.7 50.5,125.2" fill="#2d3139"/><polygon points="72.3,131.5 76.5,128.7 82.1,130.8 84.2,140.6 92.6,160.3 98.2,181.3 99.4,190.6 74.4,190.6 70.9,167.3 71.6,146.2" fill="#3c424a"/><polyline points="78.6,146.2 84.2,167.3 88.4,186.9" fill="none" stroke="#5a626c" stroke-width="2.8" stroke-linecap="round" stroke-linejoin="round" opacity="0.7"/></g></g>
<g transform="translate(3045.0 510.2)" clip-path="url(#pc)"><g filter="url(#pb)"><rect x="0.0" y="0.0" width="139.8" height="190.6" fill="#cfcac2"/><rect x="0.0" y="111.2" width="40.1" height="79.4" fill="#d5d1ca"/><path d="M7.2,63.4C7.4,56.4 8.2,50.1 10.7,43.8C13.1,37.5 17.5,30.9 21.9,25.5C26.3,20.2 31.5,15.3 37.3,11.5C43.2,7.8 50.4,4.7 57.0,3.1C63.5,1.5 70.1,1.0 76.6,1.7C83.2,2.4 90.2,4.5 96.3,7.3C102.4,10.1 108.0,13.8 113.1,18.5C118.3,23.2 123.4,29.3 127.2,35.4C130.9,41.5 133.7,48.5 135.6,55.0C137.5,61.6 138.2,68.6 138.4,74.7C138.6,80.7 138.4,86.4 137.0,91.5C135.6,96.7 132.3,100.7 130.0,105.5C127.6,110.3 125.3,117.9 122.9,120.3C120.6,122.6 118.0,123.4 115.9,119.6C113.8,115.7 125.8,99.0 110.3,97.1C94.9,95.3 39.0,106.9 23.3,108.4C7.6,109.8 18.6,109.3 16.3,105.5C13.9,101.8 10.8,92.9 9.3,85.9C7.7,78.9 6.9,70.5 7.2,63.4Z" fill="#d5d5d7"/><ellipse cx="68.2" cy="19.9" rx="36.5" ry="13.3" fill="#eeeeee" opacity="0.8"/><polygon points="7.9,63.4 14.9,43.8 23.3,41.0 21.9,69.1 23.3,105.5 16.3,105.5 10.0,85.9" fill="#b4b4b8" opacity="0.8"/><polygon points="117.3,43.8 134.2,55.0 138.1,76.1 136.3,92.9 122.9,119.6 116.6,118.9 115.9,83.1" fill="#bcbcc0" opacity="0.8"/><path d="M22.2,63.4C23.5,58.5 25.5,54.0 28.9,50.8C32.4,47.6 37.8,45.3 42.9,44.5C48.1,43.7 54.2,45.9 59.8,45.9C65.4,45.9 71.0,43.9 76.6,44.5C82.2,45.1 88.8,46.5 93.5,49.7C98.2,52.8 101.7,57.9 104.7,63.4C107.7,69.0 110.1,77.0 111.7,83.1C113.4,89.2 114.5,94.3 114.5,99.9C114.5,105.5 113.8,111.4 111.7,116.8C109.6,122.2 105.9,127.8 101.9,132.2C97.9,136.7 93.0,140.9 87.9,143.4C82.7,146.0 76.6,147.4 71.0,147.6C65.4,147.9 59.3,146.9 54.2,144.8C49.0,142.7 44.4,139.2 40.1,135.0C35.9,130.8 31.8,125.4 28.9,119.6C26.0,113.7 24.2,106.5 22.9,99.9C21.5,93.4 20.9,86.4 20.8,80.3C20.7,74.2 20.8,68.4 22.2,63.4Z" fill="#e4baa2"/><path d="M21.6,64.8C21.8,62.9 24.9,46.6 30.3,41.0C35.7,35.4 45.5,32.8 54.2,31.2C62.8,29.5 74.4,29.5 82.2,31.2C90.1,32.8 97.3,36.3 101.2,41.0C105.1,45.7 106.7,57.8 105.4,59.2C104.1,60.7 98.3,52.1 93.5,49.7C88.7,47.2 82.2,45.0 76.6,44.5C71.0,44.0 65.4,46.7 59.8,46.9C54.2,47.0 48.1,44.5 42.9,45.5C37.8,46.5 32.5,49.7 28.9,52.9C25.4,56.1 21.4,66.8 21.6,64.8Z" fill="#dadadc"/><ellipse cx="35.9" cy="99.9" rx="8.4" ry="11.2" fill="#d8907a" opacity="0.45" filter="url(#ps)"/><ellipse cx="98.4" cy="102.7" rx="8.4" ry="11.2" fill="#d8907a" opacity="0.45" filter="url(#ps)"/><polyline points="30.3,67.6 48.6,65.5" fill="none" stroke="#b0988a" stroke-width="1.7" stroke-linecap="round" stroke-linejoin="round"/><polyline points="72.4,65.5 92.1,67.6" fill="none" stroke="#b0988a" stroke-width="1.7" stroke-linecap="round" stroke-linejoin="round"/><ellipse cx="40.1" cy="73.5" rx="7.3" ry="3.1" fill="#f0e6e0"/><ellipse cx="82.2" cy="72.1" rx="7.3" ry="3.1" fill="#f0e6e0"/><ellipse cx="40.1" cy="73.5" rx="3.4" ry="2.8" fill="#4c4438"/><ellipse cx="82.2" cy="72.1" rx="3.4" ry="2.8" fill="#4c4438"/><ellipse cx="59.8" cy="96.0" rx="8.7" ry="2.8" fill="#c28a72"/><ellipse cx="68.2" cy="133.6" rx="25.3" ry="8.4" fill="#c89a84" opacity="0.5" filter="url(#ps)"/><ellipse cx="54.2" cy="83.1" rx="5.6" ry="15.4" fill="#d8a690" opacity="0.5" filter="url(#ps)"/><path d="M43.6,111.9C44.4,110.7 51.0,109.3 54.2,109.1C57.3,108.8 59.8,110.2 62.6,110.2C65.4,110.2 67.9,108.9 71.0,109.1C74.1,109.2 81.1,109.9 81.1,111.2C81.1,112.4 74.6,115.6 71.0,116.8C67.5,117.9 63.3,118.3 59.8,118.2C56.3,118.1 52.7,117.3 50.0,116.2C47.3,115.2 42.9,113.1 43.6,111.9Z" fill="#b23a44"/><polygon points="37.3,133.6 54.2,144.8 71.0,147.6 87.9,143.4 96.3,136.4 85.1,160.3 76.6,177.1 42.9,178.5 40.1,153.3" fill="#dcae96"/><polygon points="40.1,135.0 71.0,148.4 96.3,137.1 93.5,143.4 71.0,153.3 42.9,142.0" fill="#c8947c" opacity="0.7"/><polygon points="42.9,178.5 76.6,177.1 68.2,190.6 45.8,190.6" fill="#1a1a22"/><polygon points="0.0,180.6 16.3,171.5 28.9,167.3 42.9,190.6 0.0,190.6" fill="#17171b"/><polygon points="122.2,125.2 128.6,139.2 139.8,149.1 139.8,190.6 79.4,190.6 96.3,167.3 118.7,146.2" fill="#17171b"/><polygon points="31.7,134.3 40.1,137.1 40.8,153.3 42.9,178.5 48.6,190.6 19.1,190.6 18.4,167.3 21.9,150.5" fill="#8b7d3c"/><polygon points="20.5,153.3 28.9,151.9 31.7,190.6 23.3,190.6" fill="#2c64a0"/><ellipse cx="33.8" cy="179.2" rx="5.9" ry="4.5" fill="#d08030"/><polyline points="26.1,142.0 37.3,160.3 35.9,186.9" fill="none" stroke="#3a78b8" stroke-width="1.7" stroke-linecap="round" stroke-linejoin="round"/><polygon points="110.3,121.7 122.7,123.1 120.8,139.2 115.9,153.3 96.3,171.5 79.4,190.6 48.6,190.6 59.8,181.3 76.6,171.5 93.5,146.2 104.7,132.2" fill="#9a8e48"/><polyline points="111.7,125.2 93.5,151.9 68.2,182.7" fill="none" stroke="#4a8ac8" stroke-width="2.0" stroke-linecap="round" stroke-linejoin="round"/><polyline points="118.7,139.2 100.5,163.1 82.2,186.9" fill="none" stroke="#2a5a98" stroke-width="2.0" stroke-linecap="round" stroke-linejoin="round"/><polyline points="104.7,136.4 118.7,150.5" fill="none" stroke="#6aa6d8" stroke-width="1.4" stroke-linecap="round" stroke-linejoin="round"/><ellipse cx="116.2" cy="126.9" rx="5.1" ry="4.2" fill="#802040"/><ellipse cx="105.4" cy="146.2" rx="7.3" ry="2.8" fill="#d08a30" transform="rotate(-40 105.4 146.2)"/><ellipse cx="90.7" cy="175.7" rx="5.6" ry="2.5" fill="#a02848" transform="rotate(-40 90.7 175.7)"/><ellipse cx="61.2" cy="185.5" rx="8.4" ry="3.1" fill="#d08a30"/></g></g>
<g transform="translate(3232.1 510.2)" clip-path="url(#pc)"><g filter="url(#pb)"><rect x="0.0" y="0.0" width="139.8" height="190.6" fill="#14110d"/><polyline points="5.2,1.7 19.2,11.5 29.1,21.3 38.9,22.7" fill="none" stroke="#b88a1e" stroke-width="1.0" stroke-linecap="round" stroke-linejoin="round" opacity="0.75"/><polyline points="19.2,11.5 31.9,5.9 51.5,5.9 71.2,1.7" fill="none" stroke="#b88a1e" stroke-width="1.0" stroke-linecap="round" stroke-linejoin="round" opacity="0.75"/><polyline points="1.0,34.0 19.2,41.0 31.9,50.8" fill="none" stroke="#b88a1e" stroke-width="1.0" stroke-linecap="round" stroke-linejoin="round" opacity="0.75"/><polyline points="1.0,64.8 15.0,69.1 29.1,71.9" fill="none" stroke="#b88a1e" stroke-width="1.0" stroke-linecap="round" stroke-linejoin="round" opacity="0.75"/><polyline points="117.5,17.1 127.3,15.0 139.8,11.5" fill="none" stroke="#b88a1e" stroke-width="1.0" stroke-linecap="round" stroke-linejoin="round" opacity="0.75"/><polyline points="118.9,59.2 127.3,56.4 139.8,63.4" fill="none" stroke="#b88a1e" stroke-width="1.0" stroke-linecap="round" stroke-linejoin="round" opacity="0.75"/><polyline points="113.3,88.7 127.3,97.1 139.8,104.1" fill="none" stroke="#b88a1e" stroke-width="1.0" stroke-linecap="round" stroke-linejoin="round" opacity="0.75"/><polyline points="107.6,116.8 121.7,114.0 139.8,104.1" fill="none" stroke="#b88a1e" stroke-width="1.0" stroke-linecap="round" stroke-linejoin="round" opacity="0.75"/><polyline points="6.6,83.1 15.0,74.7 29.1,57.8" fill="none" stroke="#b88a1e" stroke-width="1.0" stroke-linecap="round" stroke-linejoin="round" opacity="0.75"/><polyline points="118.9,43.8 134.3,46.6" fill="none" stroke="#b88a1e" stroke-width="1.0" stroke-linecap="round" stroke-linejoin="round" opacity="0.75"/><polyline points="1.0,15.7 15.0,31.2 12.2,52.2" fill="none" stroke="#5a5a30" stroke-width="1.4" stroke-linecap="round" stroke-linejoin="round" opacity="0.6"/><polyline points="120.3,26.9 130.1,38.2 138.5,50.8" fill="none" stroke="#5a5a30" stroke-width="1.4" stroke-linecap="round" stroke-linejoin="round" opacity="0.6"/><polyline points="23.4,83.1 19.2,105.5 26.2,119.6" fill="none" stroke="#5a5a30" stroke-width="1.4" stroke-linecap="round" stroke-linejoin="round" opacity="0.6"/><ellipse cx="36.1" cy="82.0" rx="4.9" ry="14.0" fill="#d09a80"/><ellipse cx="111.9" cy="82.0" rx="6.3" ry="15.2" fill="#d8a288"/><path d="M40.3,69.1C40.7,62.7 40.3,55.5 43.1,50.8C45.9,46.1 51.0,43.1 57.1,41.0C63.2,38.9 73.0,37.7 79.6,38.2C86.1,38.6 92.4,40.5 96.4,43.8C100.4,47.1 101.8,52.7 103.4,57.8C105.1,63.0 106.0,68.6 106.2,74.7C106.5,80.7 106.0,88.2 104.8,94.3C103.7,100.4 101.6,106.2 99.2,111.2C96.9,116.1 94.1,120.5 90.8,123.8C87.5,127.1 83.3,129.4 79.6,130.8C75.8,132.2 72.1,132.7 68.4,132.2C64.6,131.7 60.4,130.3 57.1,128.0C53.8,125.7 51.0,122.2 48.7,118.2C46.4,114.2 44.5,109.1 43.1,104.1C41.7,99.2 40.7,94.5 40.3,88.7C39.8,82.9 39.8,75.4 40.3,69.1Z" fill="url(#fg7)"/><path d="M32.6,63.4C31.4,59.7 31.0,52.0 31.9,46.6C32.7,41.2 34.7,35.8 37.5,31.2C40.3,26.5 44.0,22.0 48.7,18.5C53.4,15.0 60.4,11.9 65.5,10.1C70.7,8.4 74.4,7.5 79.6,8.0C84.7,8.5 91.5,10.2 96.4,12.9C101.3,15.6 105.8,19.5 109.1,24.1C112.3,28.8 114.8,35.4 116.1,41.0C117.4,46.6 117.2,52.7 116.8,57.8C116.3,63.0 114.7,69.1 113.3,71.9C111.8,74.7 109.6,77.0 107.9,74.7C106.3,72.3 105.4,63.0 103.4,57.8C101.5,52.7 100.4,46.9 96.4,43.8C92.4,40.6 86.1,39.2 79.6,38.9C73.0,38.5 63.2,39.6 57.1,41.7C51.0,43.8 46.1,46.9 43.1,51.5C40.0,56.1 40.6,67.1 38.9,69.1C37.1,71.0 33.7,67.2 32.6,63.4Z" fill="#8d8d8d"/><path d="M62.7,17.1C64.6,14.1 75.6,11.3 79.6,12.9C83.6,14.5 87.5,22.6 86.6,26.9C85.7,31.3 77.0,38.2 74.0,38.9C70.9,39.6 70.2,34.8 68.4,31.2C66.5,27.5 60.9,20.2 62.7,17.1Z" fill="#cacaca"/><polygon points="33.3,60.6 32.6,46.6 38.9,32.6 45.9,31.2 40.3,49.4 38.9,67.6" fill="#6a6a6a" opacity="0.8"/><ellipse cx="71.2" cy="53.6" rx="21.1" ry="7.7" fill="#e8baa2" opacity="0.7"/><ellipse cx="52.2" cy="97.8" rx="6.3" ry="9.8" fill="#c88070" opacity="0.45" filter="url(#ps)"/><ellipse cx="95.0" cy="97.8" rx="6.3" ry="9.8" fill="#c88070" opacity="0.45" filter="url(#ps)"/><polyline points="44.8,66.5 62.7,64.8" fill="none" stroke="#4a4040" stroke-width="2.2" stroke-linecap="round" stroke-linejoin="round"/><polyline points="74.2,65.5 92.5,67.2" fill="none" stroke="#4a4040" stroke-width="2.2" stroke-linecap="round" stroke-linejoin="round"/><ellipse cx="53.2" cy="72.8" rx="6.3" ry="2.2" fill="#4a3a32"/><ellipse cx="82.7" cy="72.8" rx="6.3" ry="2.2" fill="#4a3a32"/><ellipse cx="65.8" cy="91.8" rx="7.9" ry="2.5" fill="#b8806a"/><polyline points="54.6,104.4 66.9,105.3 79.9,104.1" fill="none" stroke="#a05a52" stroke-width="1.7" stroke-linecap="round" stroke-linejoin="round"/><polygon points="48.7,118.2 68.4,132.2 90.8,123.8 96.4,125.2 79.6,144.8 71.2,146.2 48.7,125.2" fill="#c8927a"/><polygon points="45.2,116.8 71.2,146.2 79.6,144.8 96.4,125.2 96.1,153.3 93.9,190.6 55.7,190.6 49.4,139.2" fill="#f3f1f6"/><polygon points="83.8,150.5 96.1,137.8 93.9,190.6 86.6,190.6" fill="#dcd8e6"/><polygon points="0.0,137.8 26.2,126.6 45.9,114.0 49.4,139.2 55.7,190.6 0.0,190.6" fill="#181a28"/><polygon points="96.4,123.1 113.3,129.4 139.8,139.9 139.8,190.6 93.9,190.6 95.7,153.3" fill="#181a28"/><polygon points="45.9,114.0 15.0,154.7 26.2,163.1 19.2,170.1 51.5,190.6 55.7,190.6 49.4,139.2" fill="#23273a"/><polygon points="96.4,123.1 124.5,153.3 113.3,161.7 118.9,167.3 96.4,190.6 93.9,190.6 95.7,153.3" fill="#23273a"/><polygon points="64.8,151.2 74.0,146.2 83.1,151.2 81.0,165.2 86.9,190.6 65.3,190.6 73.3,165.2" fill="#c9607c"/><polygon points="64.8,151.2 74.0,146.2 83.1,151.2 81.0,165.2 73.3,165.2" fill="#b8506c"/></g></g>
<g clip-path="url(#sc)">
<polyline points="186.3,1977.7 201.0,1978.2 222.1,1976.7 327.2,1975.5 348.2,1973.8 411.3,1973.4 432.3,1972.4 505.9,1971.9 526.9,1970.7 611.0,1970.3 621.5,1969.2 680.0,1968.2 700.0,1968.0 800.0,1964.6 860.0,1962.5 900.0,1961.3 999.9,1956.0 1099.7,1952.0 1137.8,1949.7 1175.7,1947.1 1213.5,1946.7 1251.4,1942.9 1289.2,1939.1 1327.1,1935.3 1349.8,1932.8 1375.9,1927.4 1395.2,1924.4 1411.9,1919.4 1440.6,1914.9 1463.3,1910.3 1486.0,1908.3 1508.8,1902.9 1527.7,1897.1 1554.2,1892.9 1569.3,1895.2 1592.0,1891.4 1610.9,1888.4 1629.9,1883.5 1648.8,1877.7 1667.7,1872.0 1705.6,1865.4 1743.4,1857.7 1766.1,1852.2 1787.3,1846.4 1819.1,1835.0 1856.9,1824.4 1894.8,1811.9 1900.0,1808.3 1921.0,1802.6 1945.0,1800.2 1955.5,1800.2 1977.9,1792.1 1989.9,1791.2 1998.9,1789.1 2012.4,1783.7 2022.9,1783.1 2034.9,1780.7 2055.9,1774.7 2079.9,1768.7 2091.9,1766.3 2103.9,1762.1 2121.8,1759.7 2148.8,1754.3 2169.8,1746.3 2187.8,1738.2 2205.8,1729.8 2226.8,1724.4 2238.8,1719.6 2250.8,1717.2 2264.2,1704.3 2274.7,1697.4 2286.7,1691.4 2298.7,1677.3 2309.2,1671.3 2321.2,1677.3 2331.7,1660.2 2343.7,1657.2 2355.7,1648.8 2367.7,1648.8 2378.2,1627.8 2388.7,1618.2 2400.6,1618.8 2412.6,1611.3 2424.6,1616.4 2436.6,1618.2 2445.6,1608.4 2457.6,1617.3 2468.1,1603.9 2480.1,1597.9 2492.1,1603.9 2500.0,1613.0 2515.0,1604.0 2528.5,1602.5 2539.0,1586.1 2549.5,1579.2 2559.9,1563.6 2570.4,1542.6 2582.4,1535.1 2594.4,1523.1 2606.4,1505.1 2618.4,1497.6 2630.4,1482.7 2643.9,1467.7 2655.8,1452.7 2663.3,1442.2 2673.8,1440.1 2685.8,1430.2 2697.8,1418.2 2709.8,1410.7 2721.8,1406.2 2732.3,1398.7 2742.8,1404.1 2754.7,1419.7 2765.2,1431.7 2777.2,1451.2 2787.7,1476.7 2799.7,1491.7 2811.7,1488.7 2823.7,1476.7 2834.2,1473.7 2844.7,1463.2 2858.1,1467.7 2868.6,1451.2 2880.6,1437.7 2891.1,1428.7 2903.1,1425.7 2913.6,1439.2 2925.6,1430.2 2937.6,1412.2 2948.0,1412.2 2960.0,1397.3 2970.5,1389.2 2982.5,1362.8 2993.0,1353.8 3005.0,1331.3 3014.0,1314.9 3028.1,1297.4 3040.4,1285.1 3052.6,1281.6 3063.2,1267.5 3074.4,1251.1 3086.0,1246.5 3097.5,1253.5 3108.8,1241.2 3121.1,1230.7 3131.6,1220.2 3142.1,1206.1 3154.4,1200.9 3164.9,1179.8 3177.2,1165.8 3187.7,1150.0 3194.7,1127.6 3210.5,1114.7 3222.0,1104.7 3232.6,1088.9 3244.0,1121.9 3256.4,1070.2 3267.9,1050.2 3279.3,1044.4 3290.8,1014.3 3302.3,1064.5 3313.8,995.6 3325.3,956.9 3331.0,919.6 3335.3,890.9 3345.3,852.2 3356.8,803.4 3371.2,777.6 3382.6,737.4 3395.6,742.6" fill="none" stroke="#ed7d31" stroke-width="14.2" stroke-linejoin="round" stroke-linecap="round"/>
<polyline points="186.3,1977.7 201.0,1978.2 222.1,1976.7 327.2,1976.7 348.2,1975.0 411.3,1974.6 432.3,1973.6 505.9,1973.1 526.9,1971.9 611.0,1971.5 621.5,1970.4 680.0,1969.4 700.0,1969.2 800.0,1965.8 860.0,1963.7 900.0,1962.5 999.9,1957.2 1099.7,1952.0 1137.8,1948.2 1175.7,1945.2 1213.5,1943.7 1251.4,1939.9 1289.2,1936.1 1327.1,1931.5 1349.8,1928.5 1375.9,1922.8 1395.2,1919.8 1411.9,1914.9 1440.6,1910.3 1463.3,1905.8 1486.0,1903.9 1508.8,1899.0 1527.7,1893.3 1554.2,1889.2 1569.3,1891.4 1592.0,1887.6 1610.9,1883.9 1629.9,1878.2 1648.8,1872.5 1667.7,1866.8 1705.6,1860.4 1743.4,1852.8 1766.1,1849.8 1787.3,1847.9 1819.1,1840.3 1856.9,1830.9 1894.8,1819.5 1900.0,1819.7 1921.0,1816.7 1945.0,1809.2 1955.5,1807.7 1977.9,1808.3 1998.9,1803.2 2019.9,1798.7 2034.9,1793.3 2055.9,1788.2 2079.9,1783.7 2091.9,1782.2 2109.9,1776.2 2127.8,1771.1 2148.8,1764.2 2169.8,1762.1 2187.8,1758.2 2205.8,1753.7 2220.8,1747.8 2244.8,1740.3 2274.7,1731.3 2298.7,1723.8 2316.7,1717.8 2331.7,1711.8 2349.7,1705.8 2367.7,1698.3 2379.7,1692.3 2391.7,1687.8 2400.0,1681.8 2411.6,1679.7 2423.1,1675.1 2434.7,1673.0 2446.3,1670.2 2457.8,1670.2 2469.4,1667.5 2481.0,1664.6 2492.5,1660.8 2504.1,1657.6 2514.6,1656.1 2526.2,1652.4 2537.7,1647.7 2549.3,1640.8 2560.8,1634.5 2572.4,1628.8 2584.0,1622.9 2595.5,1617.2 2607.1,1610.7 2618.7,1604.0 2630.2,1599.4 2641.8,1592.9 2653.4,1587.2 2658.6,1584.0 2670.2,1578.4 2681.7,1574.6 2693.3,1569.3 2704.9,1564.5 2716.4,1559.8 2728.0,1554.6 2740.6,1549.3 2753.2,1548.9 2764.8,1545.1 2777.4,1543.4 2789.0,1551.4 2800.5,1556.7 2812.1,1558.4 2823.7,1557.3 2835.2,1550.4 2846.8,1547.2 2858.4,1540.5 2869.9,1536.3 2881.5,1531.5 2892.0,1530.0 2902.9,1521.6 2914.3,1518.7 2925.8,1514.4 2937.2,1508.7 2948.6,1504.4 2960.1,1501.5 2971.5,1498.0 2982.9,1490.1 2994.4,1488.7 3005.8,1481.5 3017.3,1474.4 3028.7,1474.4 3040.1,1465.8 3051.6,1457.2 3063.0,1454.4 3074.5,1450.1 3085.9,1444.4 3097.3,1440.1 3108.8,1439.8 3120.2,1436.5 3131.6,1430.8 3143.1,1425.1 3154.5,1420.1 3166.0,1414.3 3177.4,1410.0 3188.8,1402.9 3200.3,1393.6 3210.9,1383.5 3221.0,1374.3 3233.0,1368.7 3244.9,1364.2 3256.8,1358.9 3267.3,1351.2 3278.6,1344.2 3290.5,1338.6 3302.4,1346.3 3313.4,1403.8 3324.9,1351.9 3336.1,1342.1 3347.3,1328.0 3358.6,1307.0 3370.5,1293.0 3382.4,1268.4 3393.6,1257.2" fill="none" stroke="#4472c4" stroke-width="14.2" stroke-linejoin="round" stroke-linecap="round"/>
</g>
<g font-family="'Liberation Sans', Arial, sans-serif" font-weight="bold" font-size="64" fill="#000">
<text class="lab" x="2839.4" y="781.2">Pandemic</text>
<text class="lab" x="2839.4" y="857.8">Bubble</text>
<text class="lab" x="2629.0" y="1054.1">QE Forever</text>
<text class="lab" x="2629.0" y="1130.6">Bubble</text>
<text class="lab" x="2186.5" y="1289.1">Housing</text>
<text class="lab" x="2186.5" y="1365.6">Bubble</text>
<text class="lab" x="1868.4" y="1465.8">Dotcom</text>
<text class="lab" x="1868.4" y="1543.5">Bubble</text>
</g>
<line x1="999.6" x2="999.6" y1="498" y2="1990.6" stroke="#4472c4" stroke-width="2.3"/>
<line x1="1376.0" x2="1376.0" y1="498" y2="1990.6" stroke="#4472c4" stroke-width="2.3"/>
<line x1="1412.0" x2="1412.0" y1="498" y2="1990.6" stroke="#4472c4" stroke-width="2.3"/>
<line x1="1787.3" x2="1787.3" y1="498" y2="1990.6" stroke="#4472c4" stroke-width="2.3"/>
<line x1="2658.2" x2="2658.2" y1="498" y2="1990.6" stroke="#4472c4" stroke-width="2.3"/>
<line x1="3018.0" x2="3018.0" y1="498" y2="1990.6" stroke="#4472c4" stroke-width="2.3"/>
<line x1="3211.0" x2="3211.0" y1="498" y2="1990.6" stroke="#4472c4" stroke-width="2.3"/>
<line x1="3069.3" y1="819.2" x2="3283.5" y2="871.8" stroke="#4472c4" stroke-width="1.6"/>
<polygon points="3308.7,878.0 3280.3,884.4 3286.6,859.2" fill="#4472c4"/>
<line x1="2851.0" y1="1090.4" x2="3065.5" y2="1143.8" stroke="#4472c4" stroke-width="1.6"/>
<polygon points="3090.7,1150.1 3062.3,1156.4 3068.6,1131.2" fill="#4472c4"/>
<line x1="2415.3" y1="1338.8" x2="2629.3" y2="1392.5" stroke="#4472c4" stroke-width="1.6"/>
<polygon points="2654.5,1398.8 2626.1,1405.1 2632.4,1379.9" fill="#4472c4"/>
<line x1="2114.1" y1="1515.7" x2="2328.6" y2="1568.8" stroke="#4472c4" stroke-width="1.6"/>
<polygon points="2353.8,1575.0 2325.4,1581.4 2331.7,1556.1" fill="#4472c4"/>
<line x1="1014.5" x2="1139.5" y1="2192.7" y2="2192.7" stroke="#ed7d31" stroke-width="14" stroke-linecap="round"/>
<line x1="2160.5" x2="2284.5" y1="2192.7" y2="2192.7" stroke="#4472c4" stroke-width="14" stroke-linecap="round"/>
</svg>
</body></html>
